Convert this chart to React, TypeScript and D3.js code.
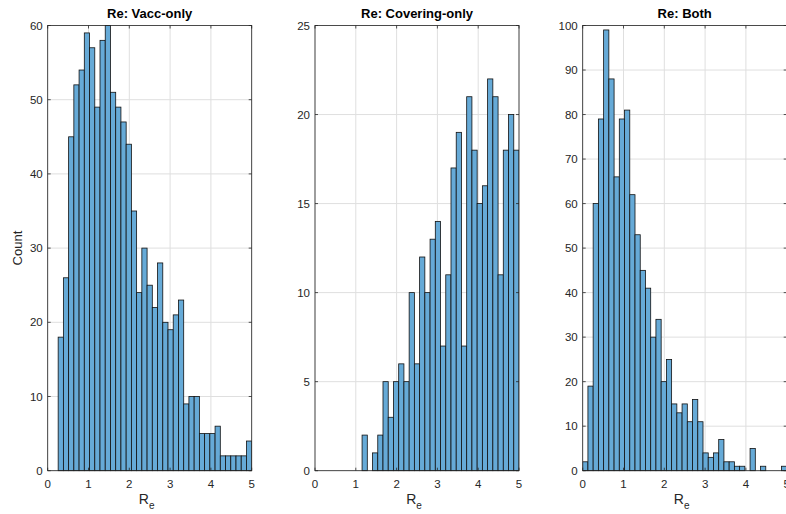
import * as d3 from 'd3'
import { useEffect, useRef } from 'react'

// bin layout shared by the three histograms
const binWidth = 0.1282
const xTicks = [0, 1, 2, 3, 4, 5]

const vaccStart = 0.2564
const vaccCounts = [18, 26, 45, 52, 54, 59, 57, 49, 58, 60, 51, 49, 47, 44, 35, 24, 30, 25, 22, 28, 20, 19, 21, 23, 9, 10, 10, 5, 5, 5, 6, 2, 2, 2, 2, 2, 4]
const vaccTicks = [0, 10, 20, 30, 40, 50, 60]

const coverStart = 1.1538
const coverCounts = [2, 0, 1, 2, 5, 3, 5, 6, 5, 10, 6, 12, 10, 13, 14, 7, 11, 17, 19, 7, 21, 18, 15, 16, 22, 21, 11, 18, 20, 18]
const coverTicks = [0, 5, 10, 15, 20, 25]

const bothStart = 0
const bothCounts = [2, 19, 60, 79, 99, 88, 66, 79, 81, 62, 53, 45, 41, 30, 34, 20, 25, 15, 13, 15, 11, 16, 11, 4, 3, 4, 7, 2, 2, 1, 1, 0, 5, 0, 1, 0, 0, 0, 1]
const bothTicks = [0, 10, 20, 30, 40, 50, 60, 70, 80, 90, 100]

const panels = [
  { title: 'Re: Vacc-only', start: vaccStart, counts: vaccCounts, yTicks: vaccTicks, left: 47.7, ylabel: true },
  { title: 'Re: Covering-only', start: coverStart, counts: coverCounts, yTicks: coverTicks, left: 315, ylabel: false },
  { title: 'Re: Both', start: bothStart, counts: bothCounts, yTicks: bothTicks, left: 582.7, ylabel: false },
]

const W = 786
const H = 514
const axisColor = '#262626'
const gridColor = '#dfdfdf'
const barFill = '#66aad7'
const font = '"Liberation Sans", Arial, sans-serif'

export default function App() {
  const svgRef = useRef<SVGSVGElement | null>(null)

  useEffect(() => {
    if (!svgRef.current)
      return
    const root = d3.select(svgRef.current)
    root.selectAll('*').remove()

    const plotW = 204
    const top = 25.5
    const bottom = 470.7

    panels.forEach((p, pi) => {
      const x = d3.scaleLinear().domain([0, 5]).range([p.left, p.left + plotW])
      const yMax = p.yTicks[p.yTicks.length - 1]
      const y = d3.scaleLinear().domain([0, yMax]).range([bottom, top])

      const g = root.append('g')
      const clipId = `clip${pi}`
      g.append('clipPath').attr('id', clipId)
        .append('rect')
        .attr('x', p.left).attr('y', top - 1)
        .attr('width', plotW).attr('height', bottom - top + 2)

      // grid
      g.append('g').selectAll('line.gx').data(xTicks).enter().append('line')
        .attr('x1', d => x(d)).attr('x2', d => x(d))
        .attr('y1', top).attr('y2', bottom)
        .attr('stroke', gridColor).attr('stroke-width', 1)
      g.append('g').selectAll('line.gy').data(p.yTicks).enter().append('line')
        .attr('x1', p.left).attr('x2', p.left + plotW)
        .attr('y1', d => y(d)).attr('y2', d => y(d))
        .attr('stroke', gridColor).attr('stroke-width', 1)

      // bars
      g.append('g').attr('clip-path', `url(#${clipId})`)
        .selectAll('rect').data(p.counts).enter().append('rect')
        .attr('x', (_, i) => x(p.start + i * binWidth))
        .attr('width', x(binWidth) - x(0))
        .attr('y', d => y(d))
        .attr('height', d => bottom - y(d))
        .attr('fill', barFill)
        .attr('stroke', '#111')
        .attr('stroke-width', 0.8)

      // box
      g.append('rect')
        .attr('x', p.left).attr('y', top)
        .attr('width', plotW).attr('height', bottom - top)
        .attr('fill', 'none').attr('stroke', axisColor).attr('stroke-width', 0.8)

      // inward ticks
      const tl = 3
      xTicks.forEach(t => {
        g.append('line').attr('x1', x(t)).attr('x2', x(t)).attr('y1', bottom).attr('y2', bottom - tl)
          .attr('stroke', axisColor).attr('stroke-width', 0.8)
        g.append('line').attr('x1', x(t)).attr('x2', x(t)).attr('y1', top).attr('y2', top + tl)
          .attr('stroke', axisColor).attr('stroke-width', 0.8)
      })
      p.yTicks.forEach(t => {
        g.append('line').attr('x1', p.left).attr('x2', p.left + tl).attr('y1', y(t)).attr('y2', y(t))
          .attr('stroke', axisColor).attr('stroke-width', 0.8)
        g.append('line').attr('x1', p.left + plotW).attr('x2', p.left + plotW - tl).attr('y1', y(t)).attr('y2', y(t))
          .attr('stroke', axisColor).attr('stroke-width', 0.8)
      })

      // tick labels
      g.append('g').selectAll('text').data(xTicks).enter().append('text')
        .attr('x', d => x(d)).attr('y', bottom + 17)
        .attr('text-anchor', 'middle')
        .attr('font-family', font).attr('font-size', 11.5).attr('fill', axisColor)
        .text(d => d)
      g.append('g').selectAll('text').data(p.yTicks).enter().append('text')
        .attr('x', p.left - 5).attr('y', d => y(d) + 4)
        .attr('text-anchor', 'end')
        .attr('font-family', font).attr('font-size', 11.5).attr('fill', axisColor)
        .text(d => d)

      // title
      g.append('text')
        .attr('x', p.left + plotW / 2).attr('y', 18)
        .attr('text-anchor', 'middle')
        .attr('font-family', font).attr('font-size', 13).attr('font-weight', 'bold')
        .attr('fill', '#000')
        .text(p.title)

      // xlabel R_e
      const xl = g.append('text')
        .attr('x', p.left + plotW / 2 - 3).attr('y', 504)
        .attr('text-anchor', 'middle')
        .attr('font-family', font).attr('font-size', 14).attr('fill', axisColor)
      xl.append('tspan').text('R')
      xl.append('tspan').attr('dy', 5).attr('font-size', 10).text('e')

      if (p.ylabel) {
        g.append('text')
          .attr('transform', `translate(22,${(top + bottom) / 2}) rotate(-90)`)
          .attr('text-anchor', 'middle')
          .attr('font-family', font).attr('font-size', 13).attr('fill', axisColor)
          .text('Count')
      }
    })
  }, [])

  return (
    <div style={{ position: 'fixed', left: 0, top: 0 }}>
      <svg ref={svgRef} width={W} height={H} style={{ display: 'block', background: '#fff' }}></svg>
    </div>
  )
}
